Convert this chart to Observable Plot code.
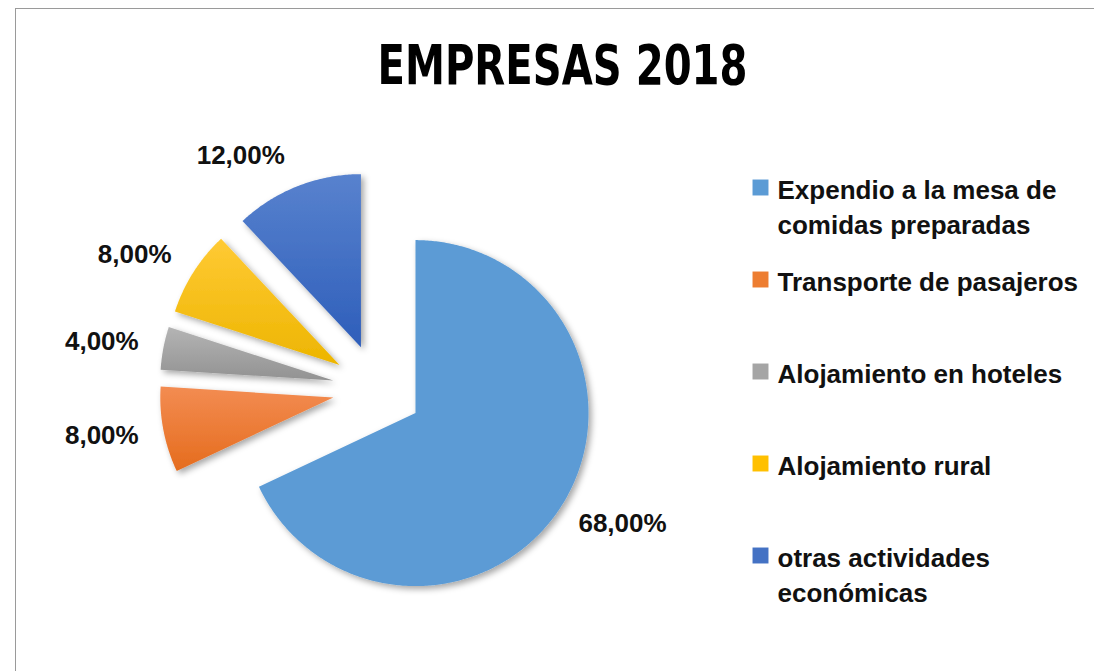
<!DOCTYPE html>
<html>
<head>
<meta charset="utf-8">
<script src="https://cdn.jsdelivr.net/npm/d3@7"></script>
<script src="https://cdn.jsdelivr.net/npm/@observablehq/plot@0.6"></script>
<style>
  html, body { margin: 0; padding: 0; background: #fff; }
  #wrap { position: relative; width: 1094px; height: 671px; overflow: hidden; }
  #border { position: absolute; left: 15px; top: 8px; right: -5px; bottom: -5px;
            border-top: 1.5px solid #9a9a9a; border-left: 1.5px solid #9a9a9a; pointer-events: none; }
  #chart { position: absolute; left: 0; top: 0; }
</style>
</head>
<body>
<div id="wrap"><div id="chart"></div><div id="border"></div></div>
<script>
// ---------- data ----------
const title = "EMPRESAS 2018";
const categories = [
  "Expendio a la mesa de comidas preparadas",
  "Transporte de pasajeros",
  "Alojamiento en hoteles",
  "Alojamiento rural",
  "otras actividades económicas"
];
const values = [68, 8, 4, 8, 12];
const valueLabels = ["68,00%", "8,00%", "4,00%", "8,00%", "12,00%"];
const legendLabels = [
  "Expendio a la mesa de\ncomidas preparadas",
  "Transporte de pasajeros",
  "Alojamiento en hoteles",
  "Alojamiento rural",
  "otras actividades\neconómicas"
];
const colors = ["#5B9BD5", "#ED7D31", "#A5A5A5", "#FFC000", "#4472C4"];
const gradTop = ["#5B9BD5", "#F38C52", "#B4B4B4", "#FFCA35", "#5882CE"];
const gradBottom = ["#5B9BD5", "#E56C1D", "#929292", "#EDB500", "#2E5EBA"];

// ---------- layout ----------
const W = 1094, H = 671;
const CX = 377, CY = 388.5, R = 173, EXPLODE = 45, LABEL_PAD = 20, LABEL_HALF_H = 12.5;
const LEG_X = 760, LEG_TEXT_X = 777, LEG_Y0 = 187, LEG_STEP = 92, LEG_LINE = 35;
const TITLE_WIDTH = 370;

// ---------- geometry from data ----------
const arcs = d3.pie().sort(null).value(d => d)(values);
const slicePts = [];
arcs.forEach((a, i) => {
  const mid = (a.startAngle + a.endAngle) / 2;
  const ox = CX + EXPLODE * Math.sin(mid), oy = CY - EXPLODE * Math.cos(mid);
  slicePts.push({name: categories[i], x: ox, y: oy});
  const n = Math.max(2, Math.ceil((a.endAngle - a.startAngle) / 0.01));
  for (let k = 0; k <= n; k++) {
    const t = a.startAngle + (a.endAngle - a.startAngle) * k / n;
    slicePts.push({name: categories[i], x: ox + R * Math.sin(t), y: oy - R * Math.cos(t)});
  }
});
const labelData = arcs.map((a, i) => {
  const mid = (a.startAngle + a.endAngle) / 2;
  const dist = EXPLODE + R + LABEL_PAD;
  return {
    text: valueLabels[i],
    side: Math.sin(mid) < 0 ? "left" : "right",
    x: CX + dist * Math.sin(mid),
    y: CY - dist * Math.cos(mid) - LABEL_HALF_H * Math.cos(mid)
  };
});
const legendData = categories.map((c, i) => {
  const nLines = legendLabels[i].split("\n").length;
  return {
    name: c, label: legendLabels[i], color: colors[i],
    y: LEG_Y0 + i * LEG_STEP,
    ty: LEG_Y0 + i * LEG_STEP + (nLines - 1) * LEG_LINE / 2
  };
});

const labelFont = "'Liberation Sans', Arial, sans-serif";

const chart = Plot.plot({
  width: W, height: H,
  margin: 0,
  x: {domain: [0, W], range: [0, W], axis: null},
  y: {domain: [0, H], range: [0, H], axis: null},
  color: {type: "identity"},
  style: {background: "transparent"},
  marks: [
    ...categories.map((c, i) =>
      Plot.line(slicePts.filter(p => p.name === c), {
        x: "x", y: "y", curve: "linear-closed",
        fill: `url(#sliceGrad${i})`, stroke: "none"
      })
    ),
    Plot.text(labelData.filter(d => d.side === "left"), {
      x: "x", y: "y", text: "text", textAnchor: "end", dx: -5,
      fontSize: 26, fontWeight: "bold", fill: "#111", fontFamily: labelFont
    }),
    Plot.text(labelData.filter(d => d.side === "right"), {
      x: "x", y: "y", text: "text", textAnchor: "start",
      fontSize: 26, fontWeight: "bold", fill: "#111", fontFamily: labelFont
    }),
    Plot.dot(legendData, {
      x: () => LEG_X, y: "y", symbol: "square", r: 9, fill: "color", stroke: "none"
    }),
    Plot.text(legendData, {
      x: () => LEG_TEXT_X, y: "ty", text: "label", textAnchor: "start",
      lineHeight: LEG_LINE / 26, fontSize: 26, fontWeight: "bold", fill: "#111",
      fontFamily: labelFont
    }),
    Plot.text([title], {
      frameAnchor: "top", dx: 15, dy: 44, text: d => d,
      fontSize: 56, fontWeight: "bold", fill: "#000", className: "chart-title",
      fontFamily: "'DejaVu Sans Condensed', 'Liberation Sans', sans-serif"
    })
  ]
});

// gradient & shadow definitions (styling)
const svg = d3.select(chart);
const defs = svg.insert("defs", ":first-child");
colors.forEach((c, i) => {
  const g = defs.append("linearGradient").attr("id", `sliceGrad${i}`)
    .attr("x1", 0).attr("y1", 0).attr("x2", 0).attr("y2", 1);
  g.append("stop").attr("offset", "0%").attr("stop-color", gradTop[i]);
  g.append("stop").attr("offset", "100%").attr("stop-color", gradBottom[i]);
});
const f = defs.append("filter").attr("id", "sliceShadow")
  .attr("x", "-20%").attr("y", "-20%").attr("width", "140%").attr("height", "140%");
f.append("feDropShadow").attr("dx", 3).attr("dy", 3).attr("stdDeviation", 3)
  .attr("flood-color", "#000").attr("flood-opacity", 0.35);
svg.selectAll("g[aria-label='line'] path").attr("filter", "url(#sliceShadow)");
// condense the title to the reference's width
svg.selectAll(".chart-title text")
  .attr("textLength", TITLE_WIDTH).attr("lengthAdjust", "spacingAndGlyphs");

document.getElementById("chart").appendChild(chart);
</script>
</body>
</html>
